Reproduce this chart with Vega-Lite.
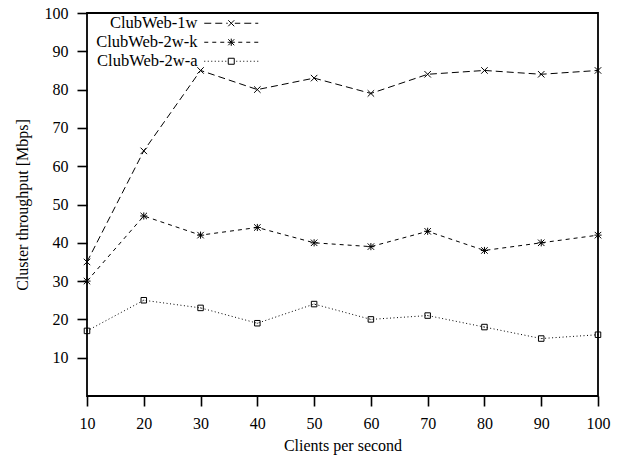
{
  "$schema": "https://vega.github.io/schema/vega-lite/v6.json",
  "width": 511,
  "height": 383,
  "autosize": "none",
  "padding": {"left": 87, "top": 13, "right": 20, "bottom": 63},
  "background": "white",
  "config": {
    "font": "Liberation Serif",
    "view": {"stroke": "#000", "strokeWidth": 1.8},
    "axis": {
      "domain": false, "grid": false, "labelFlush": false, "labelOverlap": false,
      "labelFont": "Liberation Serif", "labelFontSize": 16, "labelColor": "#000",
      "titleFont": "Liberation Serif", "titleFontSize": 16, "titleFontWeight": "normal", "titleColor": "#000",
      "tickColor": "#000", "tickWidth": 1.6, "tickSize": 10, "labelPadding": 9
    },
    "legend": {
      "orient": "none", "legendX": 136, "legendY": 2,
      "labelFont": "Liberation Serif", "labelFontSize": 16.5, "labelColor": "#000",
      "labelAlign": "right", "labelOffset": -42,
      "symbolSize": 64, "symbolStrokeColor": "#000", "symbolStrokeWidth": 1,
      "symbolFillColor": "transparent", "symbolDash": [],
      "rowPadding": 2, "title": null
    }
  },
  "data": {
    "values": [
      {"x": 10, "y": 35, "s": "ClubWeb-1w"},
      {"x": 20, "y": 64, "s": "ClubWeb-1w"},
      {"x": 30, "y": 85, "s": "ClubWeb-1w"},
      {"x": 40, "y": 80, "s": "ClubWeb-1w"},
      {"x": 50, "y": 83, "s": "ClubWeb-1w"},
      {"x": 60, "y": 79, "s": "ClubWeb-1w"},
      {"x": 70, "y": 84, "s": "ClubWeb-1w"},
      {"x": 80, "y": 85, "s": "ClubWeb-1w"},
      {"x": 90, "y": 84, "s": "ClubWeb-1w"},
      {"x": 100, "y": 85, "s": "ClubWeb-1w"},
      {"x": 10, "y": 30, "s": "ClubWeb-2w-k"},
      {"x": 20, "y": 47, "s": "ClubWeb-2w-k"},
      {"x": 30, "y": 42, "s": "ClubWeb-2w-k"},
      {"x": 40, "y": 44, "s": "ClubWeb-2w-k"},
      {"x": 50, "y": 40, "s": "ClubWeb-2w-k"},
      {"x": 60, "y": 39, "s": "ClubWeb-2w-k"},
      {"x": 70, "y": 43, "s": "ClubWeb-2w-k"},
      {"x": 80, "y": 38, "s": "ClubWeb-2w-k"},
      {"x": 90, "y": 40, "s": "ClubWeb-2w-k"},
      {"x": 100, "y": 42, "s": "ClubWeb-2w-k"},
      {"x": 10, "y": 17, "s": "ClubWeb-2w-a"},
      {"x": 20, "y": 25, "s": "ClubWeb-2w-a"},
      {"x": 30, "y": 23, "s": "ClubWeb-2w-a"},
      {"x": 40, "y": 19, "s": "ClubWeb-2w-a"},
      {"x": 50, "y": 24, "s": "ClubWeb-2w-a"},
      {"x": 60, "y": 20, "s": "ClubWeb-2w-a"},
      {"x": 70, "y": 21, "s": "ClubWeb-2w-a"},
      {"x": 80, "y": 18, "s": "ClubWeb-2w-a"},
      {"x": 90, "y": 15, "s": "ClubWeb-2w-a"},
      {"x": 100, "y": 16, "s": "ClubWeb-2w-a"}
    ]
  },
  "encoding": {
    "x": {
      "field": "x", "type": "quantitative",
      "scale": {"domain": [10, 100], "nice": false, "zero": false},
      "axis": {"values": [10, 20, 30, 40, 50, 60, 70, 80, 90, 100], "title": "Clients per second", "titlePadding": 6,
        "labelFont": "Liberation Serif", "titleFont": "Liberation Serif", "labelFontWeight": "normal", "titleFontWeight": "normal"}
    },
    "y": {
      "field": "y", "type": "quantitative",
      "scale": {"domain": [0, 100], "nice": false},
      "axis": {"values": [10, 20, 30, 40, 50, 60, 70, 80, 90, 100], "title": "Cluster throughput [Mbps]", "titlePadding": 14,
        "labelFont": "Liberation Serif", "titleFont": "Liberation Serif", "labelFontWeight": "normal", "titleFontWeight": "normal"}
    }
  },
  "layer": [
    {
      "mark": {"type": "line", "color": "#000", "strokeWidth": 1},
      "encoding": {
        "strokeDash": {
          "field": "s", "type": "nominal",
          "scale": {"domain": ["ClubWeb-1w", "ClubWeb-2w-k", "ClubWeb-2w-a"], "range": [[7, 4], [4, 4], [1, 2.5]]},
          "legend": null
        }
      }
    },
    {
      "mark": {"type": "point", "filled": false, "color": "#000", "strokeWidth": 1, "size": 42, "opacity": 1},
      "encoding": {
        "shape": {
          "field": "s", "type": "nominal",
          "scale": {"domain": ["ClubWeb-1w", "ClubWeb-2w-k", "ClubWeb-2w-a"], "range": [
            "M-1,-1L1,1M-1,1L1,-1",
            "M-1,-1L1,1M-1,1L1,-1M0,-1.1L0,1.1M-1.1,0L1.1,0",
            "M-0.85,-0.85H0.85V0.85H-0.85ZM-0.12,0H0.12"
          ]},
          "legend": null
        }
      }
    },
    {
      "transform": [{"filter": "datum.x > 1000"}],
      "mark": {"type": "point", "filled": false, "color": "#000", "strokeWidth": 1, "opacity": 1},
      "encoding": {
        "shape": {
          "field": "s", "type": "nominal",
          "scale": {"domain": ["ClubWeb-1w", "ClubWeb-2w-k", "ClubWeb-2w-a"], "range": [
            "M-6.75,0H-5M-4,0H-2.25M-1.25,0H-0.9M-0.75,-0.75L0.75,0.75M-0.75,0.75L0.75,-0.75M0.9,0H2.25M3.25,0H5M6,0H6.75",
            "M-6.75,0H-5.75M-4.75,0H-3.75M-2.75,0H-1.75M-0.75,-0.75L0.75,0.75M-0.75,0.75L0.75,-0.75M0,-0.9L0,0.9M-0.9,0L0.9,0M1.75,0H2.75M3.75,0H4.75M5.75,0H6.75",
            "M-6.75,0h0.25M-5.875,0h0.25M-5,0h0.25M-4.125,0h0.25M-3.25,0h0.25M-2.375,0h0.25M-1.5,0h0.25M-0.75,-0.75H0.75V0.75H-0.75ZM1.25,0h0.25M2.125,0h0.25M3,0h0.25M3.875,0h0.25M4.75,0h0.25M5.625,0h0.25M6.5,0h0.25"
          ]},
          "legend": {}
        }
      }
    }
  ],
  "resolve": {"scale": {"shape": "independent"}}
}
